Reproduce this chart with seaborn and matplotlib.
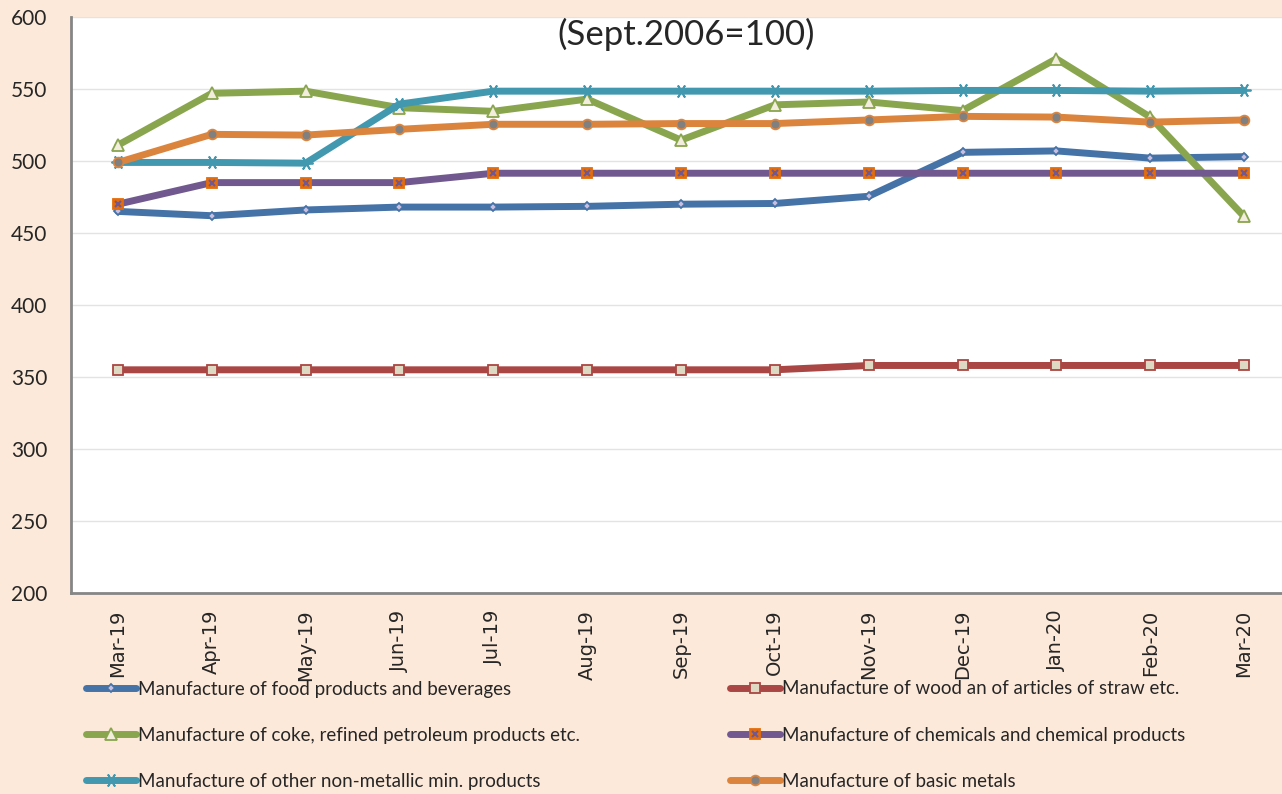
import pandas as pd
import matplotlib.pyplot as plt
import seaborn as sns
from matplotlib.legend_handler import HandlerTuple

months = ['Mar-19', 'Apr-19', 'May-19', 'Jun-19', 'Jul-19', 'Aug-19', 'Sep-19',
          'Oct-19', 'Nov-19', 'Dec-19', 'Jan-20', 'Feb-20', 'Mar-20']

food = [465, 462, 466, 468, 468, 468.5, 470, 470.5, 475.5, 506, 507, 502, 503]
wood = [355, 355, 355, 355, 355, 355, 355, 355, 358, 358, 358, 358, 358]
coke = [511, 547, 548.5, 537, 534.5, 543, 514.5, 539, 541, 535, 571, 530.5, 461.5]
chem = [470, 485, 485, 485, 491.5, 491.5, 491.5, 491.5, 491.5, 491.5, 491.5, 491.5, 491.5]
nonmet = [499, 499, 498.5, 539.5, 548.5, 548.5, 548.5, 548.5, 548.5, 549, 549, 548.5, 549]
metals = [499, 518.5, 518, 522, 525.5, 525.5, 526, 526, 528.5, 531, 530.5, 527, 528.5]

names = ['Manufacture of food products and beverages',
         'Manufacture of wood an of articles of straw etc.',
         'Manufacture of coke, refined petroleum products etc.',
         'Manufacture of chemicals and chemical products',
         'Manufacture of other non-metallic min. products',
         'Manufacture of basic metals']

df = pd.DataFrame({'month': months, names[0]: food, names[1]: wood, names[2]: coke,
                   names[3]: chem, names[4]: nonmet, names[5]: metals})
df['pos'] = range(len(months))

bg = '#FDE9D9'
sns.set_style('white')
plt.rcParams['font.family'] = ['Lato', 'DejaVu Sans']

styles = [
    dict(color='#4572A7', marker='D', ms=4, mfc='#C9BFE0', mec='#4572A7'),
    dict(color='#AA4643', marker='s', ms=6.5, mfc='#DDD9C3', mec='#AA4643'),
    dict(color='#89A54E', marker='^', ms=9, mfc='#F2EDDC', mec='#89A54E'),
    dict(color='#71588F', marker='s', ms=7.5, mfc='#E46C0A', mec='#E46C0A'),
    dict(color='#4198AF', marker=(6, 2, 90), ms=10, mfc='#4198AF', mec='#4198AF'),
    dict(color='#DB843D', marker='o', ms=7, mfc='#808080', mec='#DB843D'),
]

fig = plt.figure(figsize=(12.82, 7.94), dpi=100, facecolor=bg)
ax = fig.add_axes([71 / 1282, 201 / 794, 1220 / 1282, 576 / 794])
ax.set_facecolor('white')

handles = []
for name, st in zip(names, styles):
    sns.lineplot(data=df, x='pos', y=name, ax=ax, color=st['color'], lw=5,
                 marker=st['marker'], markersize=st['ms'], markerfacecolor=st['mfc'],
                 markeredgecolor=st['mec'], markeredgewidth=1.3, sort=False, label=name)
    h = ax.get_lines()[-1]
    if name == names[3]:
        # the X drawn inside the orange square
        ax.plot(df['pos'], df[name], ls='none', marker='x', ms=5, mew=1.5, color='#71588F')
        h = (h, ax.get_lines()[-1])
    handles.append(h)
ax.get_legend().remove()

ax.set_xlim(-0.5, 12.5)
ax.set_ylim(200, 600)
ax.set_yticks(range(200, 601, 50))
ax.set_xticks(df['pos'])
ax.set_xticklabels(months, rotation=90, fontsize=14, family='DejaVu Sans')
ax.tick_params(axis='y', labelsize=15, pad=17, length=0)
ax.tick_params(axis='x', length=0, pad=12)
ax.set_xlabel('')
ax.set_ylabel('')
ax.yaxis.grid(True, color='#E3E3E3', lw=1)
for s in ['top', 'right']:
    ax.spines[s].set_visible(False)
for s in ['left', 'bottom']:
    ax.spines[s].set_color('#868686')
    ax.spines[s].set_linewidth(2)

fig.text(686 / 1282, 1 - 34 / 794, '(Sept.2006=100)', ha='center', va='center', fontsize=25)

leg_kw = dict(frameon=False, fontsize=13.5, handlelength=2.7, handletextpad=0.12,
              labelspacing=1.55, borderaxespad=0, handler_map={tuple: HandlerTuple(ndivide=1)})
l1 = fig.legend([handles[i] for i in (0, 2, 4)], [names[i] for i in (0, 2, 4)],
                loc='upper left', bbox_to_anchor=(78 / 1282, 1 - 673 / 794), **leg_kw)
l2 = fig.legend([handles[i] for i in (1, 3, 5)], [names[i] for i in (1, 3, 5)],
                loc='upper left', bbox_to_anchor=(722 / 1282, 1 - 673 / 794), **leg_kw)

fig.savefig('out.png', dpi=100, facecolor=bg)
